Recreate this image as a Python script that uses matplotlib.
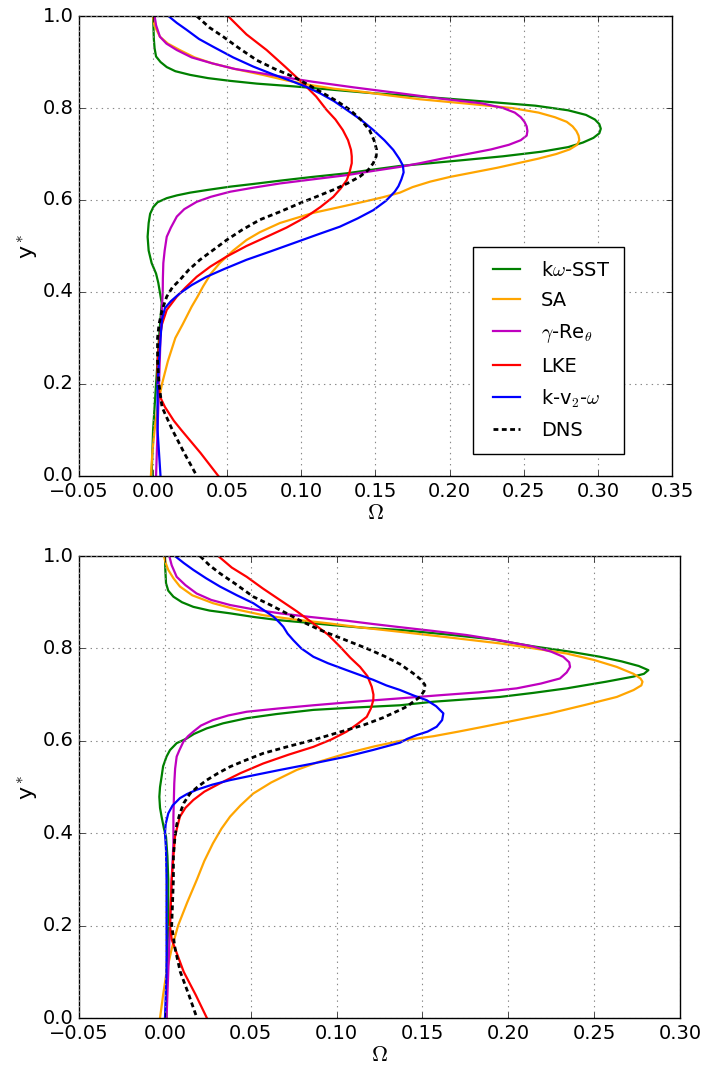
import matplotlib
matplotlib.use("Agg")
import matplotlib.pyplot as plt

plt.style.use("classic")
plt.rcParams.update({
    "figure.facecolor": "white",
    "savefig.facecolor": "white",
    "font.family": ["DejaVu Sans"],
    "mathtext.fontset": "cm",
    "font.size": 14,
    "axes.linewidth": 1.0,
    "grid.linestyle": ":",
    "grid.color": "#888888",
    "grid.linewidth": 0.8,
})

labels = ["k$\\omega$-SST", "SA", "$\\gamma$-Re$_\\theta$", "LKE",
          "k-v$_2$-$\\omega$", "DNS"]
colors = ["#008000", "#FFA500", "#BF00BF", "#FF0000", "#0000FF", "black"]

# ---------------- upper station ----------------
top_sst_y = [1.0, 0.95, 0.93, 0.912, 0.9, 0.889, 0.88, 0.872, 0.865, 0.859, 0.853,
             0.847, 0.84, 0.833, 0.825, 0.815, 0.805, 0.795, 0.785, 0.775, 0.765,
             0.755, 0.745, 0.735, 0.725, 0.715, 0.705, 0.695, 0.687, 0.68, 0.674,
             0.666, 0.658, 0.65, 0.642, 0.635, 0.629, 0.622, 0.616, 0.61, 0.604,
             0.595, 0.585, 0.57, 0.55, 0.52, 0.49, 0.463, 0.44, 0.42, 0.376, 0.3,
             0.2, 0.1, 0.0]
top_sst_w = [0.0, 0.0005, 0.001, 0.002, 0.005, 0.0092, 0.015, 0.025, 0.037, 0.052, 0.070,
             0.095, 0.12, 0.145, 0.18, 0.22, 0.258, 0.28, 0.292, 0.298, 0.301,
             0.302, 0.301, 0.297, 0.29, 0.28, 0.262, 0.236, 0.21, 0.187, 0.1665,
             0.148, 0.1306, 0.107, 0.0856, 0.068, 0.052, 0.037, 0.025, 0.016, 0.0092,
             0.003, 0.0002, -0.002, -0.003, -0.0037, -0.003, -0.001, 0.002, 0.0035, 0.0058, 0.004,
             0.002, 0.0, -0.001]

top_sa_y = [1.0, 0.98, 0.955, 0.94, 0.926, 0.91, 0.897, 0.885, 0.872, 0.86, 0.85,
            0.842, 0.835, 0.827, 0.819, 0.81, 0.80, 0.79, 0.78, 0.77, 0.76, 0.75,
            0.74, 0.73, 0.72, 0.71, 0.70, 0.69, 0.68, 0.67, 0.66, 0.65, 0.64, 0.628,
            0.616, 0.606, 0.596, 0.584, 0.572, 0.55, 0.53, 0.513, 0.49, 0.463, 0.44,
            0.412, 0.39, 0.368, 0.33, 0.3, 0.25, 0.2, 0.15, 0.1, 0.05, 0.0]
top_sa_w = [0.0, 0.0008, 0.0046, 0.01, 0.018, 0.028, 0.040, 0.055, 0.074, 0.09, 0.106,
            0.122, 0.1417, 0.16, 0.18, 0.21, 0.242, 0.26, 0.271, 0.279, 0.283, 0.2855,
            0.287, 0.2875, 0.286, 0.281, 0.272, 0.26, 0.246, 0.232, 0.216, 0.2, 0.187, 0.175,
            0.1665, 0.155, 0.1417, 0.125, 0.108, 0.0856, 0.072, 0.063, 0.054, 0.045, 0.039,
            0.0337, 0.03, 0.026, 0.02, 0.015, 0.01, 0.006, 0.003, 0.001, -0.0005, -0.0015]

top_gre_y = [1.0, 0.98, 0.955, 0.94, 0.926, 0.91, 0.897, 0.885, 0.875, 0.866, 0.857,
             0.845, 0.832, 0.82, 0.81, 0.80, 0.79, 0.78, 0.77, 0.76, 0.75, 0.74,
             0.73, 0.72, 0.71, 0.70, 0.69, 0.68, 0.672, 0.663, 0.654, 0.645, 0.636,
             0.627, 0.618, 0.607, 0.596, 0.58, 0.564, 0.54, 0.52, 0.49, 0.463, 0.43,
             0.40, 0.3, 0.2, 0.1, 0.0]
top_gre_w = [0.001, 0.002, 0.0046, 0.009, 0.016, 0.026, 0.040, 0.055, 0.074, 0.09, 0.108,
             0.135, 0.1665, 0.195, 0.222, 0.236, 0.244, 0.248, 0.2505, 0.252, 0.2525, 0.252,
             0.248, 0.24, 0.228, 0.212, 0.195, 0.18, 0.1665, 0.148, 0.1306, 0.108, 0.0856,
             0.068, 0.052, 0.039, 0.0294, 0.021, 0.016, 0.012, 0.0092, 0.0078, 0.0069, 0.0066,
             0.0065, 0.005, 0.004, 0.003, 0.002]

top_lke_y = [1.0, 0.96, 0.926, 0.89, 0.854, 0.825, 0.796, 0.775, 0.752, 0.73, 0.709,
             0.695, 0.68, 0.66, 0.643, 0.625, 0.607, 0.585, 0.564, 0.54, 0.52, 0.5,
             0.477, 0.455, 0.433, 0.41, 0.39, 0.361, 0.33, 0.3, 0.25, 0.2, 0.17, 0.15,
             0.12, 0.1, 0.05, 0.0]
top_lke_w = [0.0505, 0.063, 0.0766, 0.089, 0.101, 0.11, 0.117, 0.123, 0.128, 0.1315, 0.1335,
             0.134, 0.134, 0.1325, 0.1306, 0.1265, 0.1216, 0.113, 0.1036, 0.09, 0.0766, 0.063,
             0.0496, 0.0385, 0.0294, 0.022, 0.016, 0.0092, 0.006, 0.0045, 0.003, 0.003, 0.005,
             0.008, 0.014, 0.019, 0.032, 0.044]

top_kv2_y = [1.0, 0.985, 0.97, 0.95, 0.933, 0.91, 0.89, 0.873, 0.857, 0.845, 0.832,
             0.815, 0.796, 0.775, 0.752, 0.73, 0.709, 0.69, 0.675, 0.66, 0.645, 0.63,
             0.618, 0.598, 0.578, 0.56, 0.542, 0.525, 0.506, 0.488, 0.47, 0.45, 0.433,
             0.415, 0.397, 0.38, 0.365, 0.34, 0.3, 0.2, 0.1, 0.0]
top_kv2_w = [0.0103, 0.016, 0.0226, 0.031, 0.0406, 0.054, 0.0676, 0.081, 0.0946, 0.104, 0.1126,
             0.122, 0.1306, 0.14, 0.1486, 0.156, 0.162, 0.166, 0.1685, 0.169, 0.1675, 0.1655,
             0.163, 0.157, 0.1486, 0.138, 0.126, 0.111, 0.0946, 0.079, 0.063, 0.048, 0.036,
             0.026, 0.018, 0.012, 0.008, 0.006, 0.005, 0.003, 0.003, 0.005]

top_dns_y = [1.0, 0.975, 0.955, 0.93, 0.904, 0.885, 0.868, 0.85, 0.832, 0.815, 0.796,
             0.775, 0.752, 0.73, 0.709, 0.695, 0.68, 0.665, 0.651, 0.636, 0.622, 0.607,
             0.593, 0.575, 0.557, 0.535, 0.513, 0.49, 0.47, 0.448, 0.426, 0.41, 0.39,
             0.36, 0.33, 0.3, 0.25, 0.2, 0.15, 0.1, 0.05, 0.0]
top_dns_w = [0.0294, 0.038, 0.0473, 0.058, 0.0699, 0.082, 0.0946, 0.105, 0.1148, 0.124, 0.1328,
             0.14, 0.146, 0.149, 0.1508, 0.1505, 0.1485, 0.145, 0.1395, 0.131, 0.1215, 0.11,
             0.099, 0.086, 0.072, 0.06, 0.0496, 0.04, 0.0316, 0.024, 0.018, 0.013, 0.0092,
             0.006, 0.004, 0.003, 0.003, 0.004, 0.006, 0.013, 0.021, 0.0295]

# ---------------- lower station ----------------
bot_sst_y = [1.0, 0.97, 0.941, 0.925, 0.912, 0.9, 0.89, 0.882, 0.876, 0.868, 0.861,
             0.856, 0.851, 0.845, 0.84, 0.83, 0.82, 0.8045, 0.793, 0.782, 0.772, 0.762,
             0.753, 0.745, 0.739, 0.728, 0.7136, 0.704, 0.695, 0.6847, 0.677, 0.672,
             0.667, 0.658, 0.649, 0.638, 0.627, 0.615, 0.605, 0.595, 0.58, 0.566, 0.545,
             0.522, 0.5, 0.479, 0.455, 0.436, 0.41, 0.392, 0.35, 0.3, 0.2, 0.1, 0.0]
bot_sst_w = [0.0001, 0.0003, 0.0007, 0.002, 0.005, 0.01, 0.0166, 0.026, 0.038, 0.052, 0.067,
             0.082, 0.0962, 0.115, 0.137, 0.165, 0.19, 0.2146, 0.236, 0.2534, 0.266, 0.276,
             0.2816, 0.279, 0.2728, 0.257, 0.234, 0.215, 0.195, 0.1564, 0.137, 0.11,
             0.0865, 0.065, 0.0477, 0.034, 0.0244, 0.017, 0.0127, 0.0069, 0.003, 0.001, -0.001,
             -0.0019, -0.0028, -0.0032, -0.0028, -0.0019, -0.0005, 0.0007, 0.0015, 0.002, 0.002,
             0.001, 0.001]

bot_sa_y = [1.0, 0.985, 0.97, 0.952, 0.934, 0.915, 0.898, 0.885, 0.872, 0.863, 0.854,
            0.845, 0.836, 0.824, 0.811, 0.8, 0.789, 0.775, 0.76, 0.745, 0.735, 0.728,
            0.72, 0.71, 0.695, 0.678, 0.6595, 0.645, 0.6305, 0.62, 0.61, 0.6, 0.588,
            0.573, 0.555, 0.537, 0.51, 0.486, 0.46, 0.436, 0.41, 0.378, 0.34, 0.3,
            0.25, 0.2, 0.15, 0.1, 0.05, 0.0]
bot_sa_w = [-0.0005, 0.0005, 0.002, 0.005, 0.0088, 0.016, 0.028, 0.041, 0.0573, 0.075, 0.096,
            0.115, 0.137, 0.165, 0.195, 0.215, 0.234, 0.25, 0.2632, 0.273, 0.277, 0.2782,
            0.2775, 0.273, 0.2632, 0.245, 0.2243, 0.205, 0.1855, 0.171, 0.1564, 0.137, 0.122,
            0.1059, 0.09, 0.0768, 0.062, 0.0515, 0.044, 0.038, 0.033, 0.028, 0.023, 0.0187,
            0.013, 0.0077, 0.004, 0.001, -0.001, -0.0028]

bot_gre_y = [1.0, 0.98, 0.955, 0.937, 0.919, 0.905, 0.894, 0.885, 0.876, 0.868, 0.86,
             0.853, 0.846, 0.838, 0.829, 0.817, 0.804, 0.793, 0.782, 0.77, 0.76, 0.748,
             0.735, 0.724, 0.7136, 0.705, 0.699, 0.692, 0.685, 0.677, 0.67, 0.663, 0.655,
             0.645, 0.633, 0.62, 0.61, 0.598, 0.58, 0.566, 0.54, 0.508, 0.436, 0.378,
             0.3, 0.2, 0.1, 0.0]
bot_gre_w = [0.0026, 0.004, 0.0069, 0.012, 0.0185, 0.027, 0.038, 0.051, 0.067, 0.085, 0.1059,
             0.121, 0.137, 0.156, 0.1758, 0.196, 0.2146, 0.225, 0.232, 0.2355, 0.236, 0.234,
             0.2301, 0.219, 0.2049, 0.183, 0.161, 0.137, 0.112, 0.0865, 0.066, 0.0477, 0.037,
             0.028, 0.021, 0.0166, 0.0135, 0.0108, 0.0085, 0.0069, 0.006, 0.0055, 0.005, 0.005,
             0.004, 0.003, 0.002, 0.001]

bot_lke_y = [1.0, 0.975, 0.955, 0.93, 0.905, 0.88, 0.854, 0.83, 0.804, 0.78, 0.76,
             0.74, 0.717, 0.7, 0.688, 0.67, 0.652, 0.636, 0.62, 0.603, 0.587, 0.57,
             0.551, 0.53, 0.508, 0.49, 0.472, 0.455, 0.436, 0.41, 0.392, 0.35, 0.3,
             0.25, 0.2, 0.17, 0.15, 0.1, 0.05, 0.0]
bot_lke_w = [0.0311, 0.039, 0.0477, 0.057, 0.067, 0.077, 0.0865, 0.095, 0.102, 0.108, 0.1137,
             0.118, 0.1205, 0.1215, 0.1214, 0.12, 0.1176, 0.112, 0.1059, 0.097, 0.0865, 0.072,
             0.0573, 0.044, 0.0321, 0.023, 0.0166, 0.012, 0.0088, 0.007, 0.0059, 0.005, 0.004,
             0.0035, 0.003, 0.004, 0.006, 0.011, 0.018, 0.0245]

bot_kv2_y = [1.0, 0.985, 0.97, 0.952, 0.934, 0.915, 0.898, 0.882, 0.869, 0.857, 0.847,
             0.832, 0.818, 0.8, 0.782, 0.768, 0.753, 0.742, 0.732, 0.72, 0.71, 0.698,
             0.688, 0.675, 0.6595, 0.645, 0.6305, 0.62, 0.6125, 0.604, 0.596, 0.58, 0.566,
             0.55, 0.537, 0.525, 0.515, 0.505, 0.494, 0.485, 0.476, 0.46, 0.443, 0.42,
             0.40, 0.364, 0.3, 0.2, 0.1, 0.0]
bot_kv2_w = [0.0059, 0.011, 0.0166, 0.024, 0.0321, 0.042, 0.0515, 0.058, 0.0632, 0.0665, 0.069,
             0.0715, 0.0748, 0.0795, 0.0865, 0.095, 0.1059, 0.114, 0.1214, 0.129, 0.137, 0.145,
             0.1525, 0.158, 0.1622, 0.1615, 0.1583, 0.153, 0.1467, 0.141, 0.137, 0.121, 0.1059,
             0.085, 0.067, 0.051, 0.038, 0.0275, 0.0185, 0.013, 0.0088, 0.0045, 0.002, 0.0005,
             0.0001, 0.0007, 0.001, 0.001, 0.001, 0.0001]

bot_dns_y = [1.0, 0.98, 0.9625, 0.94, 0.912, 0.895, 0.876, 0.858, 0.84, 0.82, 0.80,
             0.783, 0.766, 0.746, 0.733, 0.721, 0.708, 0.695, 0.684, 0.674, 0.667, 0.65,
             0.634, 0.618, 0.602, 0.588, 0.573, 0.558, 0.544, 0.53, 0.515, 0.5, 0.486,
             0.465, 0.443, 0.42, 0.392, 0.35, 0.3, 0.25, 0.2, 0.15, 0.1, 0.05, 0.0]
bot_dns_w = [0.0205, 0.026, 0.0321, 0.041, 0.0515, 0.061, 0.0709, 0.08, 0.0904, 0.104, 0.1176,
             0.128, 0.137, 0.1447, 0.149, 0.1515, 0.151, 0.1486, 0.1445, 0.1408, 0.137, 0.127,
             0.1156, 0.101, 0.0865, 0.072, 0.0573, 0.047, 0.038, 0.031, 0.0244, 0.019, 0.0147,
             0.011, 0.0088, 0.007, 0.0059, 0.005, 0.005, 0.0045, 0.004, 0.006, 0.009, 0.014,
             0.0187]

top_series = [(top_sst_w, top_sst_y), (top_sa_w, top_sa_y), (top_gre_w, top_gre_y),
              (top_lke_w, top_lke_y), (top_kv2_w, top_kv2_y), (top_dns_w, top_dns_y)]
bot_series = [(bot_sst_w, bot_sst_y), (bot_sa_w, bot_sa_y), (bot_gre_w, bot_gre_y),
              (bot_lke_w, bot_lke_y), (bot_kv2_w, bot_kv2_y), (bot_dns_w, bot_dns_y)]

fig = plt.figure(figsize=(7.02, 10.82), dpi=100)
ax1 = fig.add_axes([0.1125, 0.5601, 0.8447, 0.4251])
ax2 = fig.add_axes([0.1125, 0.0591, 0.8561, 0.4270])


def draw(ax, series, xmax):
    for (w, y), lab, col in zip(series, labels, colors):
        if lab == "DNS":
            ax.plot(w, y, color=col, lw=2.0, linestyle="--", dashes=(3.5, 2.5),
                    solid_joinstyle="round", label=lab)
        else:
            ax.plot(w, y, color=col, lw=1.6, solid_joinstyle="round", label=lab)
    ax.set_xlim(-0.05, xmax)
    ax.set_ylim(0.0, 1.0)
    n = int(round((xmax + 0.05) / 0.05)) + 1
    ticks = [round(-0.05 + 0.05 * i, 2) for i in range(n)]
    ax.set_xticks(ticks)
    ax.set_yticks([0.0, 0.2, 0.4, 0.6, 0.8, 1.0])
    ax.set_xticklabels(["%.2f" % t if t >= 0 else "\u2212%.2f" % -t for t in ticks])
    ax.set_yticklabels(["%.1f" % t for t in ax.get_yticks()])
    ax.grid(True)
    ax.tick_params(labelsize=14, direction="in", top=True, right=True)
    ax.set_xlabel("$\\Omega$", fontsize=16, labelpad=2)
    ax.set_ylabel("y$^*$", fontsize=16, labelpad=2)


draw(ax1, top_series, 0.35)
draw(ax2, bot_series, 0.30)

leg = ax1.legend(loc="center", bbox_to_anchor=(0.792, 0.273), fontsize=14,
                 handlelength=2.0, labelspacing=0.6, borderpad=0.7, frameon=True)
leg.get_frame().set_edgecolor("black")
leg.get_frame().set_linewidth(1.0)

fig.savefig("out.png", dpi=100)
